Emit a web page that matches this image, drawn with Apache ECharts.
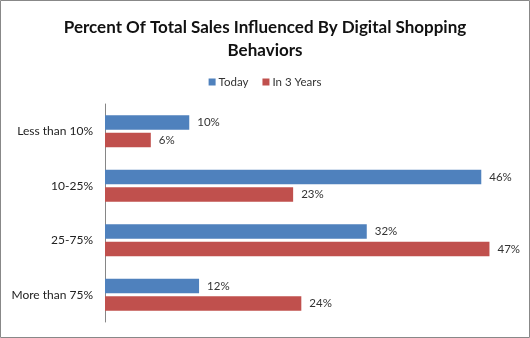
<!DOCTYPE html>
<html><head><meta charset="utf-8">
<script src="https://cdn.jsdelivr.net/npm/echarts@6/dist/echarts.min.js"></script>
<style>html,body{margin:0;padding:0;background:#fff}#c{width:530px;height:338px}</style>
</head><body><div id="c"></div>
<script>
const categories = ['Less than 10%', '10-25%', '25-75%', 'More than 75%'];
const seriesNames = ['Today', 'In 3 Years'];
const todayValues = [10.3, 46, 32, 11.5];
const in3YearsValues = [5.6, 23, 47, 24];
const labelTexts = {
  'Today': ['10%', '46%', '32%', '12%'],
  'In 3 Years': ['6%', '23%', '47%', '24%']
};
const titleText = 'Percent Of Total Sales Influenced By Digital Shopping\nBehaviors';

const chart = echarts.init(document.getElementById('c'));
const fontFam = 'Lato, "Open Sans", sans-serif';
function labelFor(name){
  return {
    show: true, position: 'right', distance: 8,
    color: '#333', fontSize: 11.5, fontFamily: fontFam,
    formatter: p => labelTexts[name][p.dataIndex]
  };
}
chart.setOption({
  animation: false,
  title: {
    text: titleText, left: 'center', top: 11,
    textStyle: {fontSize: 17, fontWeight: 'bold', fontFamily: fontFam, color: '#111', lineHeight: 23}
  },
  legend: {
    top: 71, left: 'center', itemWidth: 7, itemHeight: 7, itemGap: 14,
    icon: 'rect',
    textStyle: {fontSize: 11.5, fontFamily: fontFam, color: '#333', padding: [0,0,0,-2]},
    data: seriesNames
  },
  graphic: [{type: 'rect', shape: {x: 0.5, y: 0.5, width: 529, height: 337}, style: {fill: 'none', stroke: '#888', lineWidth: 1}, silent: true}],
  grid: {left: 105, top: 104, width: 409, height: 218, containLabel: false},
  xAxis: {type: 'value', min: 0, max: 50, show: false, splitLine: {show: false}},
  yAxis: {
    type: 'category', data: categories, inverse: true,
    axisLine: {show: true, lineStyle: {color: '#868686'}},
    axisTick: {show: false},
    axisLabel: {fontSize: 12, fontFamily: fontFam, color: '#222', margin: 12}
  },
  series: [
    {name: 'Today', type: 'bar', data: todayValues, barWidth: 14.5, barGap: '22%', itemStyle: {color: '#4F81BD'}, label: labelFor('Today')},
    {name: 'In 3 Years', type: 'bar', data: in3YearsValues, barWidth: 14.5, barGap: '22%', itemStyle: {color: '#C0504D'}, label: labelFor('In 3 Years')}
  ]
});
</script></body></html>
